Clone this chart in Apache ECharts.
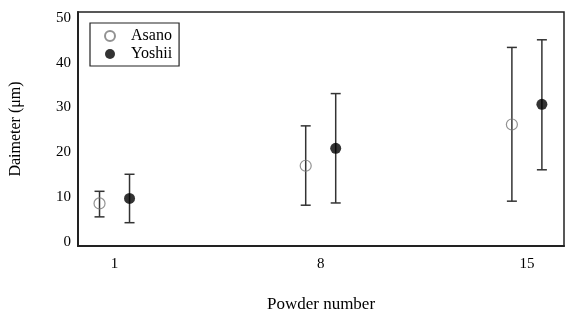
<!DOCTYPE html>
<html>
<head>
<meta charset="utf-8">
<script src="https://cdn.jsdelivr.net/npm/echarts@6/dist/echarts.min.js"></script>
<style>
  html, body { margin: 0; padding: 0; background: #fff; }
  #chart { width: 573px; height: 318px; }
</style>
</head>
<body>
<div id="chart"></div>
<script>
  // powder numbers on the x axis
  var powders = [1, 8, 15]
  var yTicks = [0, 10, 20, 30, 40, 50]

  // Asano: mean, lower, upper
  var asanoMean = [8.6, 17.0, 26.2]
  var asanoLow = [5.6, 8.2, 9.1]
  var asanoHigh = [11.3, 25.9, 43.4]

  // Yoshii: mean, lower, upper
  var yoshiiMean = [9.7, 20.9, 30.7]
  var yoshiiLow = [4.3, 8.7, 16.1]
  var yoshiiHigh = [15.1, 33.1, 45.1]

  var font = 'Liberation Serif'
  var dodge = 15 // px each side of the powder number
  var barColor = '#333'

  function errorBars (name, low, high, shift) {
    return {
      name: name,
      type: 'custom',
      z: 1,
      data: powders.map(function (p, i) { return [p, low[i], high[i]] }),
      renderItem: function (params, api) {
        var lo = api.coord([api.value(0), api.value(1)])
        var hi = api.coord([api.value(0), api.value(2)])
        var x = lo[0] + shift
        var cap = 5
        var style = { stroke: barColor, lineWidth: 1.5 }
        return {
          type: 'group',
          children: [
            { type: 'line', shape: { x1: x, y1: lo[1], x2: x, y2: hi[1] }, style: style },
            { type: 'line', shape: { x1: x - cap, y1: lo[1], x2: x + cap, y2: lo[1] }, style: style },
            { type: 'line', shape: { x1: x - cap, y1: hi[1], x2: x + cap, y2: hi[1] }, style: style }
          ]
        }
      }
    }
  }

  var chart = echarts.init(document.getElementById('chart'))
  chart.setOption({
    animation: false,
    textStyle: { fontFamily: font },
    grid: {
      left: 75, right: 9, top: 12, bottom: 71,
      show: true, borderColor: '#222', borderWidth: 1.5
    },
    legend: {
      orient: 'vertical',
      left: 90, top: 23,
      padding: [5, 7, 4, 14],
      borderColor: '#222', borderWidth: 1.2,
      itemWidth: 10, itemHeight: 10, itemGap: 2,
      data: ['Asano', 'Yoshii'],
      textStyle: { fontFamily: font, fontSize: 16, color: '#000', padding: [0, 0, 0, 11] }
    },
    xAxis: {
      type: 'value',
      min: -0.24, max: 16.26,
      name: 'Powder number',
      nameLocation: 'middle',
      nameGap: 50,
      nameTextStyle: { fontFamily: font, fontSize: 17, color: '#000' },
      splitLine: { show: false },
      axisTick: { show: false },
      axisLine: { onZero: false, lineStyle: { color: '#222', width: 2 } },
      axisLabel: { customValues: powders, fontSize: 15, color: '#000', margin: 11, fontFamily: font }
    },
    yAxis: {
      type: 'value',
      min: -0.9, max: 51.3,
      name: 'Daimeter (μm)',
      nameLocation: 'middle',
      nameGap: 54,
      nameTextStyle: { fontFamily: font, fontSize: 16, color: '#000' },
      splitLine: { show: false },
      axisTick: { show: false },
      axisLine: { show: true, onZero: false, lineStyle: { color: '#222', width: 2 } },
      axisLabel: { customValues: yTicks, fontSize: 15, color: '#000', margin: 7, fontFamily: font }
    },
    series: [
      {
        name: 'Asano',
        type: 'scatter',
        z: 3,
        symbol: 'circle',
        symbolSize: 11,
        symbolOffset: [-dodge, 0],
        itemStyle: { color: 'rgba(255,255,255,0)', borderColor: '#777', borderWidth: 1.2 },
        data: powders.map(function (p, i) { return [p, asanoMean[i]] })
      },
      {
        name: 'Yoshii',
        type: 'scatter',
        z: 3,
        symbol: 'circle',
        symbolSize: 11,
        symbolOffset: [dodge, 0],
        itemStyle: { color: '#000' },
        data: powders.map(function (p, i) { return [p, yoshiiMean[i]] })
      },
      errorBars('Asano', asanoLow, asanoHigh, -dodge),
      errorBars('Yoshii', yoshiiLow, yoshiiHigh, dodge)
    ]
  })
</script>
</body>
</html>
